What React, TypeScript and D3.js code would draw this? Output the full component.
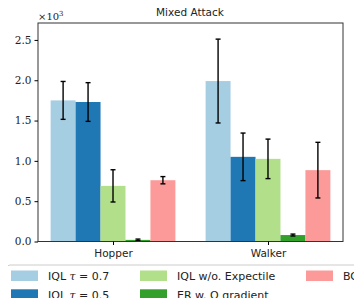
import React, { useEffect, useRef } from 'react';
import * as d3 from 'd3';

const groups = ['Hopper', 'Walker'];
const methods = ['IQL t07', 'IQL t05', 'IQL w/o. Expectile', 'ER w. Q gradient', 'BC'];
const colors = ['#a6cee3', '#1f78b4', '#b2df8a', '#33a02c', '#fb9a99'];
// mean per method, per group (x10^3)
const hopperMeans = [1.75, 1.73, 0.69, 0.02, 0.76];
const hopperErrs = [0.235, 0.24, 0.2, 0.01, 0.045];
const walkerMeans = [1.99, 1.05, 1.025, 0.08, 0.885];
const walkerErrs = [0.52, 0.295, 0.245, 0.012, 0.345];
const yTicks = [0, 0.5, 1.0, 1.5, 2.0, 2.5];

export default function App() {
  const ref = useRef<SVGSVGElement>(null);

  useEffect(() => {
    const svg = d3.select(ref.current);
    svg.selectAll('*').remove();

    const left = 38, right = 343, top = 23, bottom = 241.5;
    const x = d3.scaleLinear().domain([-0.484, 1.484]).range([left, right]);
    const y = d3.scaleLinear().domain([0, 2.71]).range([bottom, top]);
    const bw = 0.161;
    const serif = "'DejaVu Serif', serif";
    const sans = "'DejaVu Sans', sans-serif";

    const data = [hopperMeans, walkerMeans].flatMap((means, g) =>
      means.map((m, i) => ({
        g, i, m,
        e: (g === 0 ? hopperErrs : walkerErrs)[i],
        cx: g + (i - 2) * bw,
      }))
    );

    svg.append('g').selectAll('rect').data(data).enter().append('rect')
      .attr('x', d => x(d.cx - bw / 2))
      .attr('width', x(bw) - x(0))
      .attr('y', d => y(d.m))
      .attr('height', d => y(0) - y(d.m))
      .attr('fill', d => colors[d.i]);

    const eb = svg.append('g').attr('stroke', '#000').attr('stroke-width', 1.4);
    data.forEach(d => {
      const px = x(d.cx);
      eb.append('line').attr('x1', px).attr('x2', px).attr('y1', y(d.m - d.e)).attr('y2', y(d.m + d.e));
      [d.m - d.e, d.m + d.e].forEach(v => {
        eb.append('line').attr('x1', px - 2.5).attr('x2', px + 2.5).attr('y1', y(v)).attr('y2', y(v));
      });
    });

    // frame
    svg.append('rect').attr('x', left).attr('y', top).attr('width', right - left).attr('height', bottom - top)
      .attr('fill', 'none').attr('stroke', '#333').attr('stroke-width', 1);

    const yAxis = svg.append('g').attr('transform', `translate(${left},0)`)
      .call(d3.axisLeft(y).tickValues(yTicks).tickSize(3.5).tickPadding(3).tickFormat(d3.format('.1f')));
    yAxis.select('.domain').remove();
    yAxis.selectAll('text').attr('font-family', serif).attr('font-size', 10.5).attr('fill', '#222');

    const xAxis = svg.append('g').attr('transform', `translate(0,${bottom})`)
      .call(d3.axisBottom(x).tickValues([0, 1]).tickSize(3.5).tickPadding(4.5).tickFormat((d, i) => groups[i]));
    xAxis.select('.domain').remove();
    xAxis.selectAll('text').attr('font-family', sans).attr('font-size', 10.5).attr('fill', '#222');

    svg.append('text').attr('x', 190).attr('y', 16).attr('text-anchor', 'middle')
      .attr('font-family', sans).attr('font-size', 10.5).attr('fill', '#222').text('Mixed Attack');
    const exp = svg.append('text').attr('x', 38).attr('y', 20).attr('font-family', serif)
      .attr('font-size', 10).attr('fill', '#222');
    exp.append('tspan').text('×10');
    exp.append('tspan').attr('dy', -4).attr('font-size', 7).text('3');

    // legend
    const lg = svg.append('g');
    lg.append('rect').attr('x', 7).attr('y', 265).attr('width', 370).attr('height', 50).attr('rx', 3)
      .attr('fill', '#fff').attr('stroke', '#ccc').attr('stroke-width', 1);
    const pos = [[11, 270.5], [11, 289.3], [140, 270.5], [140, 289.3], [306, 270.5]];
    methods.forEach((name, i) => {
      const [lx, ly] = pos[i];
      lg.append('rect').attr('x', lx).attr('y', ly).attr('width', 27).attr('height', 10.5).attr('fill', colors[i]);
      const t = lg.append('text').attr('x', lx + 37).attr('y', ly + 9.5).attr('font-family', sans)
        .attr('font-size', 11).attr('fill', '#222');
      if (i < 2) {
        t.append('tspan').text('IQL ');
        t.append('tspan').attr('font-family', serif).attr('font-style', 'italic').text('τ');
        t.append('tspan').attr('font-family', serif).text(' = ');
        t.append('tspan').text(i === 0 ? '0.7' : '0.5');
      } else {
        t.text(name);
      }
    });
  }, []);

  return (
    <div style={{ margin: -8 }}>
      <svg ref={ref} width={362} height={306} style={{ display: 'block', background: '#fff' }} />
    </div>
  );
}
